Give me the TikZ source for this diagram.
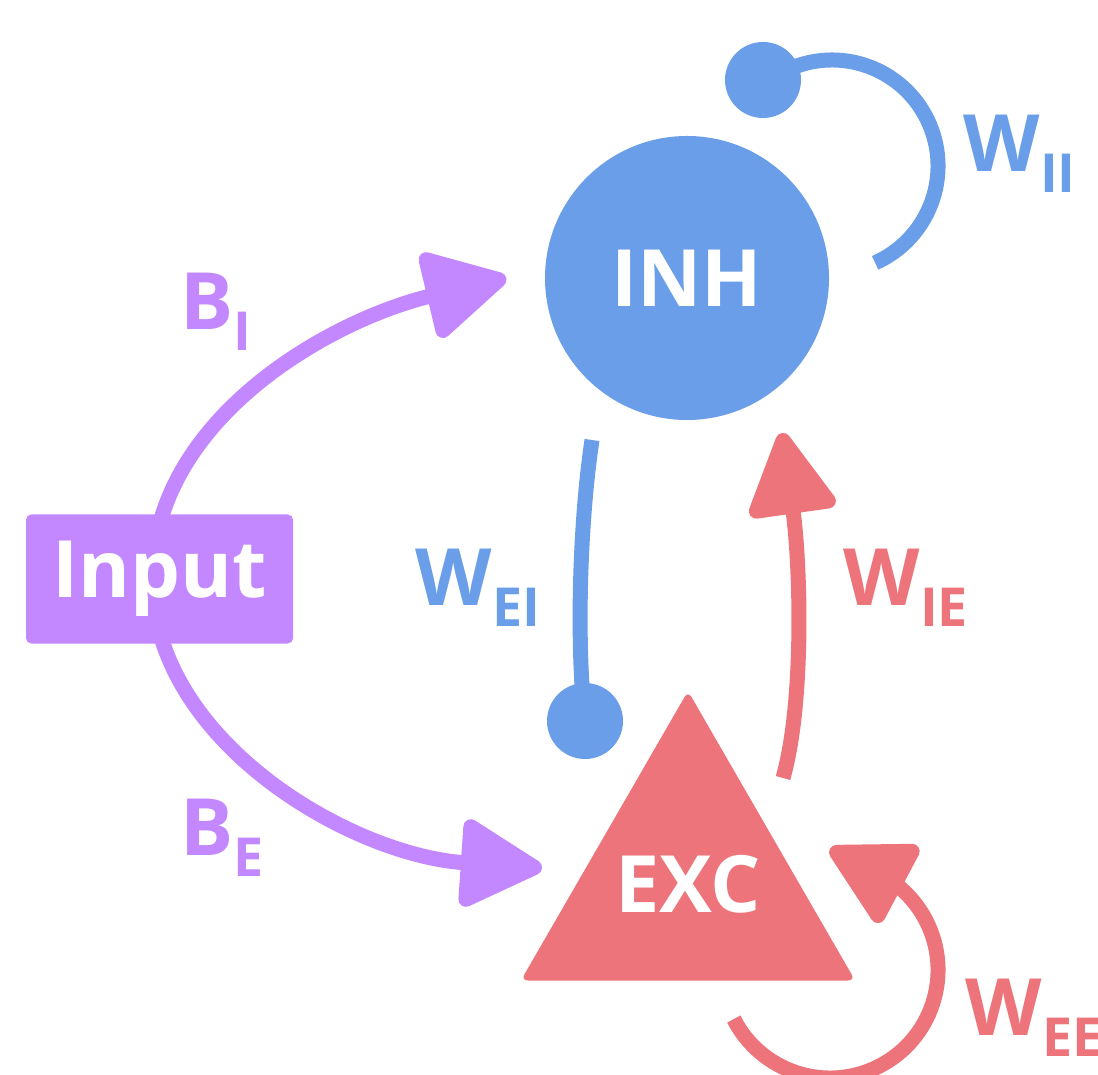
\documentclass[tikz,border=0pt]{standalone}
\usepackage{fontspec}
\setmainfont{Open Sans}
\usepackage{tikz}
\usetikzlibrary{arrows.meta,shapes.geometric,backgrounds}
\definecolor{inhblue}{HTML}{6A9EE9}
\definecolor{excred}{HTML}{EC747A}
\definecolor{inpurple}{HTML}{C387FF}
\newcommand{\sublab}[2]{#1\raisebox{-2.1mm}{\fontsize{15.3}{16}\selectfont #2}}

\begin{document}
\begin{tikzpicture}[>={Triangle[length=9mm,width=9.4mm,round]},
  every node/.style={font=\fontsize{22.5}{24}\selectfont\bfseries, inner sep=0pt},
  wire/.style={line width=1.5mm}]
\useasboundingbox (0,0) rectangle (10.98,-10.75);
\clip (0,0) rectangle (10.98,-10.75);
% populations
\node[circle, fill=inhblue, minimum size=2.84cm, text=white] (inh) at (6.87,-2.78) {INH};
\node[regular polygon, regular polygon sides=3, fill=excred, minimum size=3.86cm,
  rounded corners=2pt, label={[text=white]center:EXC}] (exc) at (6.88,-8.84) {};
\node[rectangle, fill=inpurple, rounded corners=1.5pt, minimum width=2.67cm,
  minimum height=1.29cm, text=white] (input) at (1.595,-5.79) {Input};
\node[circle, fill=inhblue, minimum size=7.6mm] (eidot) at (5.85,-7.21) {};
\node[circle, fill=inhblue, minimum size=7.6mm] (iidot) at (7.63,-0.80) {};
% weight labels
\node[anchor=base west, text=inhblue] (wii) at (9.63,-1.72) {\sublab{W}{II}};
\node[anchor=base west, text=inhblue] (wei) at (4.15,-6.05) {\sublab{W}{EI}};
\node[anchor=base west, text=excred] (wie) at (8.43,-6.05) {\sublab{W}{IE}};
\node[anchor=base west, text=excred] (wee) at (9.65,-10.35) {\sublab{W}{EE}};
\node[anchor=base west, text=inpurple] (bi) at (1.80,-3.30) {\sublab{B}{I}};
\node[anchor=base west, text=inpurple] (be) at (1.80,-8.55) {\sublab{B}{E}};
% free ends of the connectors
\coordinate (betip) at (5.42,-8.68);
\coordinate (eitop) at (5.92,-4.40);
\coordinate (iebot) at (7.83,-7.78);
\coordinate (ietip) at (7.82,-4.33);
\coordinate (iiloop) at (8.32,-1.66);
\coordinate (eeloop) at (8.30,-9.70);

\begin{scope}[on background layer]
% input drive
\draw[wire, inpurple, ->] ([xshift=-0.7mm]input.center) .. controls (1.52,-4.20) and (3.30,-3.20) .. ([xshift=-3.8mm]inh.west);
\draw[wire, inpurple, ->] ([xshift=-0.7mm]input.center) .. controls (1.52,-7.40) and (3.50,-8.55) .. (betip);
% E <-> I
\draw[wire, inhblue] (eitop) .. controls (5.80,-5.20) and (5.76,-6.40) .. (eidot.center);
\draw[wire, excred, ->] (iebot) .. controls (8.05,-7.00) and (8.00,-5.60) .. (ietip);
% self loops
\draw[wire, inhblue] ([shift={(110:1.06)}]iiloop) arc[start angle=110, end angle=-66, radius=1.06];
\draw[wire, excred, ->] ([shift={(207:1.08)}]eeloop) arc[start angle=207, end angle=414, radius=1.08] -- ++(152:0.72);
\end{scope}
\end{tikzpicture}
\end{document}
